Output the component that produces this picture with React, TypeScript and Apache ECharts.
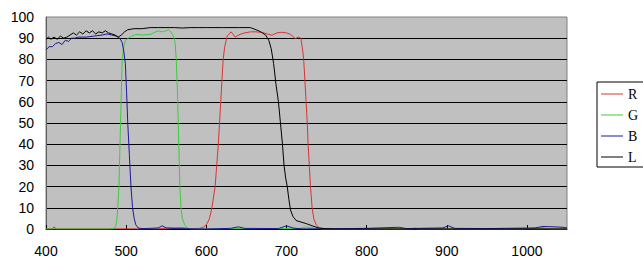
import React, { useEffect, useRef } from "react";
import * as echarts from "echarts";

const xTicks = { min: 400, max: 1050, interval: 100 };
const yTicks = { min: 0, max: 100, interval: 10 };
const seriesNames = ["R", "G", "B", "L"];

const dataR: number[][] = [
  [400, 0], [408, 0], [410, 1], [413, 0], [540, 0], [552, 0.5], [570, 0.6], [580, 0.2], [592, 0.3],
  [597, 1], [601, 2.5], [604, 5], [607, 10], [609, 15], [611, 20], [613, 30], [615, 40], [616.5, 50],
  [618, 60], [619.5, 70], [621, 80], [623, 86], [626, 91], [631, 93], [636, 90.5], [642, 91.8],
  [648, 92.5], [655, 93], [662, 93], [670, 92.7], [676, 92], [682, 91.4], [688, 92.5], [694, 92.8],
  [700, 92.5], [705, 91.8], [709, 90.5], [711, 89.8], [715, 90.5], [718, 90], [720, 85], [721.5, 80],
  [723, 70], [724.5, 60], [726, 50], [727, 40], [728.5, 30], [730, 20], [732, 10], [734, 5], [737, 2],
  [741, 0.5], [746, 0], [855, 0], [860, 0.4], [865, 0], [990, 0], [1020, 0.5], [1030, 0], [1050, 0],
];

const dataG: number[][] = [
  [400, 0], [480, 0], [486, 0.5], [488, 3], [489.5, 10], [491, 20], [492, 35], [493, 50], [494, 65],
  [495, 80], [497, 86], [499, 89], [503, 90], [507, 91], [512, 91.8], [520, 91.5], [530, 91.8],
  [536, 92.8], [540, 93.5], [545, 93], [550, 93.5], [553, 94], [556, 92.8], [559, 91], [561, 88],
  [562.5, 80], [564, 65], [565, 50], [566, 35], [567, 20], [568.5, 10], [570, 5], [573, 2], [577, 0.3],
  [582, 0], [715, 0.2], [725, 1], [735, 0.3], [745, 0], [1050, 0],
];

const dataB: number[][] = [
  [400, 84.5], [404, 86], [408, 86], [412, 87.5], [416, 88], [420, 87], [424, 89], [428, 88.5],
  [432, 90], [436, 90], [440, 90.5], [450, 90.5], [460, 91], [470, 91.5], [476, 92], [482, 91.5],
  [488, 91], [492, 90], [495, 88], [497, 84], [499, 78], [500.5, 65], [502, 50], [504, 35], [506, 20],
  [508, 10], [510, 5], [512, 2], [515, 0.5], [520, 0.2], [530, 0.3], [540, 0.5], [545, 1.5], [550, 0.5],
  [560, 0.2], [600, 0], [630, 0.3], [640, 1], [648, 0.3], [690, 0.2], [700, 1.5], [708, 0.5], [720, 0],
  [800, 0.3], [840, 0.8], [850, 0.2], [895, 0.5], [902, 1.5], [910, 0.3], [950, 0.2], [1010, 0.5],
  [1020, 1.2], [1035, 1], [1045, 0.8], [1050, 0.5],
];

const dataL: number[][] = [
  [400, 89.5], [403, 90.5], [406, 89.5], [410, 90.5], [414, 89.5], [418, 91], [422, 90], [426, 90.5],
  [430, 91.5], [434, 92.5], [438, 91.5], [442, 93], [446, 92], [450, 93.5], [454, 92.5], [458, 93.5],
  [462, 92], [466, 93], [470, 92.5], [474, 93.5], [478, 92.5], [482, 92], [486, 91.5], [490, 90.5],
  [494, 91.5], [498, 93], [502, 94], [510, 94.5], [520, 94.5], [530, 95], [540, 95], [560, 95],
  [570, 94.8], [580, 95], [590, 95], [600, 95], [620, 95], [640, 95], [655, 95], [662, 94], [668, 93],
  [674, 91.5], [678, 89], [681, 85], [684, 78], [687, 68], [690, 60], [693, 48], [695, 40], [697, 30],
  [699, 24], [701, 20], [703, 14], [705, 9], [708, 6], [712, 4], [718, 3.3], [725, 2.5], [732, 1.5],
  [740, 0.5], [748, 0.2], [760, 0], [1050, 0],
];

const colors = ["#D83434", "#3CCC3C", "#1A1A9A", "#000000"];

export default function App() {
  const ref = useRef<HTMLDivElement>(null);
  useEffect(() => {
    if (!ref.current) return;
    const chart = echarts.init(ref.current, null, { renderer: "svg" });
    const datasets = [dataR, dataG, dataB, dataL];
    chart.setOption({
      animation: false,
      backgroundColor: "#ffffff",
      grid: {
        left: 46,
        right: 76,
        top: 17,
        bottom: 37,
        show: true,
        backgroundColor: "#C0C0C0",
        borderColor: "#808080",
        borderWidth: 1,
      },
      legend: {
        orient: "vertical",
        left: 597,
        top: 82,
        padding: [5, 6, 3, 4],
        itemGap: 7,
        itemWidth: 22,
        itemHeight: 1,
        icon: "rect",
        borderColor: "#000000",
        borderWidth: 1,
        backgroundColor: "#ffffff",
        data: seriesNames,
        textStyle: { fontFamily: "Liberation Serif", fontSize: 14, color: "#000", lineHeight: 14 },
      },
      xAxis: {
        type: "value",
        min: xTicks.min,
        max: xTicks.max,
        interval: xTicks.interval,
        splitLine: { show: false },
        axisLine: { show: true, lineStyle: { color: "#000", width: 1 } },
        axisTick: { show: true, inside: true, length: 4, lineStyle: { color: "#000" } },
        axisLabel: {
          showMaxLabel: false,
          margin: 15,
          fontFamily: "Liberation Sans",
          fontSize: 14,
          color: "#000",
          formatter: (v: number) => String(v),
        },
      },
      yAxis: {
        type: "value",
        min: yTicks.min,
        max: yTicks.max,
        interval: yTicks.interval,
        splitLine: { show: true, showMaxLine: false, lineStyle: { color: "#000", width: 1 } },
        axisLine: { show: true, lineStyle: { color: "#606060", width: 1 } },
        axisTick: { show: false },
        axisLabel: {
          margin: 12,
          fontFamily: "Liberation Sans",
          fontSize: 14,
          color: "#000",
        },
      },
      series: seriesNames.map((name, i) => ({
        name,
        type: "line",
        data: datasets[i],
        symbol: "none",
        showSymbol: false,
        color: colors[i],
        lineStyle: { color: colors[i], width: 1 },
      })),
    });
    return () => chart.dispose();
  }, []);
  return (
    <div
      ref={ref}
      style={{ position: "fixed", left: 0, top: 0, width: 643, height: 266 }}
    />
  );
}
